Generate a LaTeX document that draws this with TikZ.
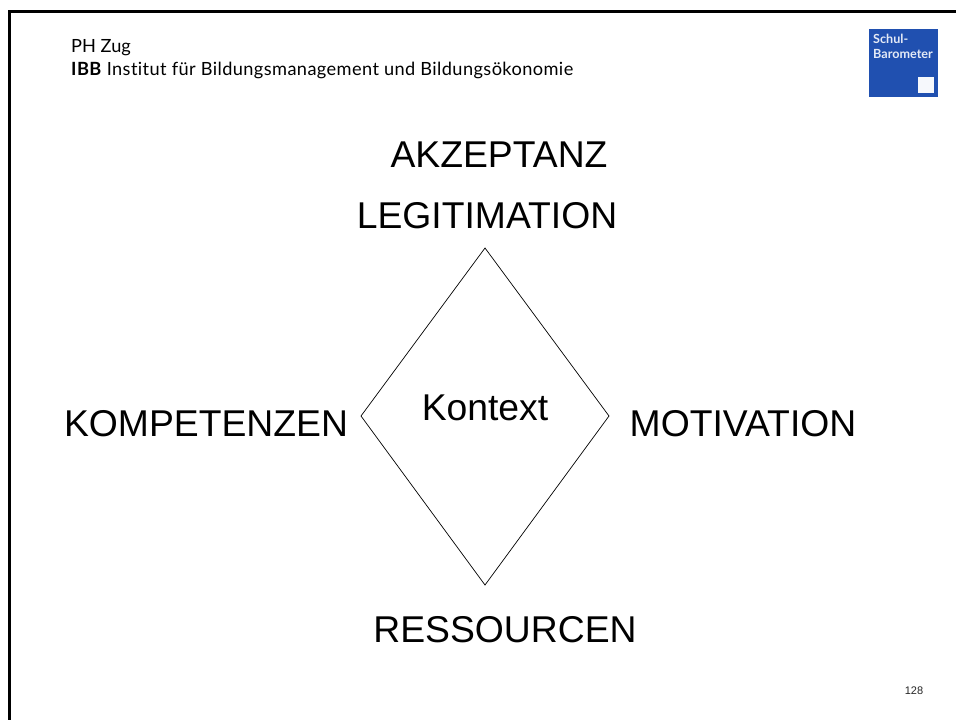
\documentclass[tikz,border=0pt]{standalone}
\usepackage{fontspec}
\setmainfont{Liberation Sans}
\newfontfamily\headfont[Ligatures=NoCommon]{Lato}
\newfontfamily\headwide[Ligatures=NoCommon,LetterSpace=2.2]{Lato}
\definecolor{logoblue}{RGB}{32,80,176}
\tikzset{
  big/.style={inner sep=0pt,font=\fontsize{37.3}{37.3}\selectfont,text=black},
  head/.style={inner sep=0pt,anchor=base west,font=\headfont\fontsize{18.2}{18.2}\selectfont,text=black},
  headlong/.style={inner sep=0pt,anchor=base west,font=\headwide\fontsize{18.2}{18.2}\selectfont,text=black},
  logotext/.style={inner sep=0pt,anchor=base west,font=\headfont\bfseries\fontsize{12.6}{12.6}\selectfont,text=white!88!logoblue}
}
\begin{document}
\begin{tikzpicture}[x=1pt,y=-1pt]
\useasboundingbox (0,0) rectangle (956,720);
\fill[white] (0,0) rectangle (956,720);
\coordinate (fbl) at (9,720);
\coordinate (ftl) at (9,11);
\coordinate (ftr) at (956,11);
\draw[line width=3pt,black] (fbl) -- (ftl) -- (ftr);
\node[head] (ph) at (71,52) {PH Zug};
\node[headlong] (ibb) at (71,75) {\textbf{IBB} Institut für Bildungsmanagement und Bildungsökonomie};
\fill[logoblue] (869,29) rectangle (938,97);
\node[logotext] (s1) at (873,43) {Schul-};
\node[logotext] (s2) at (873,58) {Barometer};
\fill[white!96!logoblue] (918,77) rectangle (934,93);
\node[big] (akz) at (499,155) {AKZEPTANZ};
\node[big] (leg) at (487,216) {LEGITIMATION};
\node[big] (kom) at (206,424) {KOMPETENZEN};
\node[big] (mot) at (743,424) {MOTIVATION};
\node[big] (res) at (505,630) {RESSOURCEN};
\node[big] (kon) at (485,408) {Kontext};
\coordinate (dt) at (485,248);
\coordinate (dr) at (609,416);
\coordinate (db) at (485,585);
\coordinate (dl) at (361,416);
\draw[line width=0.7pt,black,line join=miter] (dt) -- (dr) -- (db) -- (dl) -- cycle;
\node[inner sep=0pt,font=\fontsize{11}{11}\selectfont,text=black!85] (pg) at (914,691) {128};
\end{tikzpicture}
\end{document}
